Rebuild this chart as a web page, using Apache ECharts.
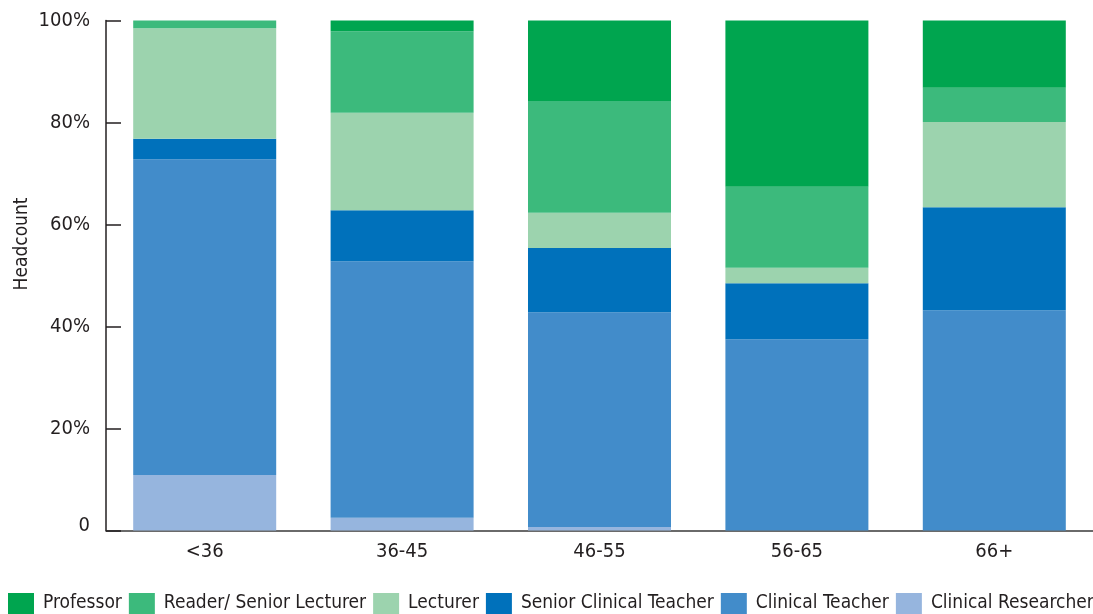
<!DOCTYPE html>
<html>
<head>
<meta charset="utf-8">
<title>Headcount by age band</title>
<script src="https://cdn.jsdelivr.net/npm/echarts@6/dist/echarts.min.js"></script>
<style>
  html, body { margin: 0; padding: 0; background: #ffffff; }
  #chart { width: 1093px; height: 614px; }
</style>
</head>
<body>
<div id="chart"></div>
<script>
// Age bands along the x axis
const ageBands = ['<36', '36-45', '46-55', '56-65', '66+'];

// Share of headcount (%) per grade, stacked bottom to top
const clinicalResearcher    = [10.9, 2.5, 0.7, 0, 0];
const clinicalTeacher       = [61.9, 50.3, 42.1, 37.5, 43.2];
const seniorClinicalTeacher = [4.0, 10.0, 12.6, 11.0, 20.2];
const lecturer              = [21.7, 19.1, 6.9, 3.0, 16.7];
const readerSeniorLecturer  = [1.5, 16.0, 21.9, 15.9, 6.7];
const professor             = [0, 2.1, 15.8, 32.6, 13.2];

// Value-axis ticks
const yTicks = [0, 20, 40, 60, 80, 100];

const FONT = "'DejaVu Sans Condensed', 'Liberation Sans Narrow', sans-serif";
const INK = '#231f20';

const seriesDefs = [
  { name: 'Clinical Researcher',     data: clinicalResearcher,    color: '#96b5de' },
  { name: 'Clinical Teacher',        data: clinicalTeacher,       color: '#428cca' },
  { name: 'Senior Clinical Teacher', data: seniorClinicalTeacher, color: '#0071bb' },
  { name: 'Lecturer',                data: lecturer,              color: '#9cd3ae' },
  { name: 'Reader/ Senior Lecturer', data: readerSeniorLecturer,  color: '#3cba7c' },
  { name: 'Professor',               data: professor,             color: '#00a54f' }
];

const chart = echarts.init(document.getElementById('chart'), null, { renderer: 'canvas' });

chart.setOption({
  animation: false,
  backgroundColor: '#ffffff',
  grid: { left: 106, top: 20.5, right: -3, bottom: 83.5, containLabel: false },
  legend: {
    data: seriesDefs.map(s => s.name).reverse(),
    left: 8,
    top: 593,
    width: 1100,
    padding: 0,
    itemWidth: 26,
    itemHeight: 21,
    itemGap: 7,
    icon: 'rect',
    textStyle: { fontFamily: FONT, fontSize: 19, color: INK, padding: [2, 0, 0, 4] }
  },
  xAxis: {
    type: 'category',
    data: ageBands,
    axisLine: { lineStyle: { color: '#3a3a3a', width: 1.5 } },
    axisTick: { show: false },
    axisLabel: { fontFamily: FONT, fontSize: 20, color: INK, margin: 11 }
  },
  yAxis: {
    type: 'value',
    min: yTicks[0],
    max: yTicks[yTicks.length - 1],
    interval: yTicks[1] - yTicks[0],
    axisLine: { show: true, lineStyle: { color: INK, width: 1.5 } },
    axisTick: { show: true, inside: true, length: 15, lineStyle: { color: INK, width: 1.5 } },
    splitLine: { show: false },
    axisLabel: {
      fontFamily: FONT, fontSize: 20, color: INK, margin: 16,
      formatter: v => (v === 0 ? '{zero|0}' : v + '%'),
      rich: { zero: { fontFamily: FONT, fontSize: 20, color: INK, padding: [0, 0, 10, 0] } }
    }
  },
  graphic: [{
    type: 'text',
    x: 22,
    y: 244,
    rotation: Math.PI / 2,
    style: {
      text: 'Headcount',
      fontFamily: FONT,
      fontSize: 19,
      fill: INK,
      align: 'center',
      verticalAlign: 'middle'
    }
  }],
  series: seriesDefs.map(s => ({
    name: s.name,
    type: 'bar',
    stack: 'share',
    barWidth: 143,
    data: s.data,
    itemStyle: { color: s.color },
    emphasis: { disabled: true }
  }))
});
</script>
</body>
</html>
